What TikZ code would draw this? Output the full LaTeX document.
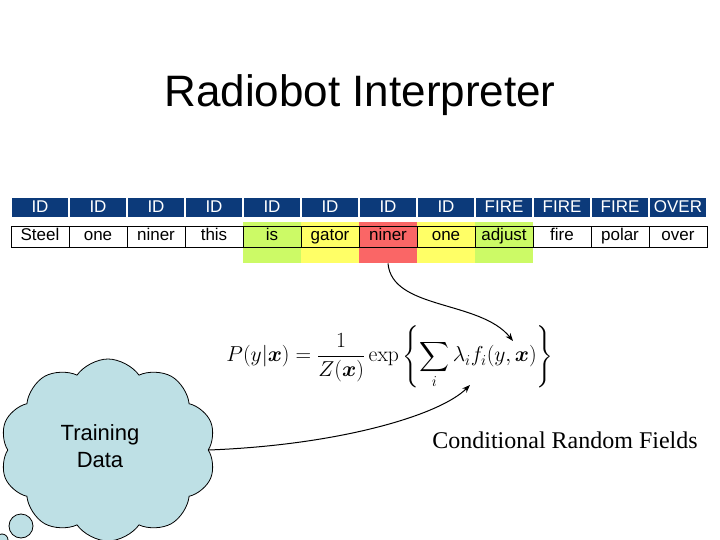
\RequirePackage{fix-cm}
\documentclass[tikz,border=0pt]{standalone}
\usepackage{amsmath,bm}
\usepackage[no-math]{fontspec}
\setmainfont{Liberation Sans}
\newfontfamily\timesfont{Liberation Serif}
\usetikzlibrary{shapes.symbols,arrows.meta}
\definecolor{hdrblue}{RGB}{12,58,122}
\definecolor{hlgreen}{RGB}{204,250,102}
\definecolor{hlyellow}{RGB}{255,255,102}
\definecolor{hlred}{RGB}{250,102,102}
\definecolor{cloudblue}{RGB}{190,224,229}
\tikzset{
  hdrcell/.style={fill=hdrblue,draw=white,line width=1.2pt,minimum width=58pt,minimum height=21pt,inner sep=0pt,text=white,text height=12pt,text depth=3pt,font=\fontsize{17}{17}\selectfont},
  wordcell/.style={draw=black,line width=0.8pt,minimum width=58pt,minimum height=21pt,inner sep=0pt,text height=12pt,text depth=3.5pt,font=\fontsize{17}{17}\selectfont},
  hlcell/.style={minimum width=58pt,minimum height=41pt,inner sep=0pt,anchor=north},
  conn/.style={line width=1pt,-{Stealth[length=8pt,width=6pt]}},
}
\begin{document}
\begin{tikzpicture}[x=1pt,y=-1pt]
\useasboundingbox (0,0) rectangle (720,540);
\node (title) at (360,95) {\fontsize{44}{44}\selectfont Radiobot Interpreter};
% highlight extensions
\node[hlcell,fill=hlgreen]  (hl4)  at (272,222) {};
\node[hlcell,fill=hlyellow] (hl5)  at (330,222) {};
\node[hlcell,fill=hlred]    (hl6)  at (388,222) {};
\node[hlcell,fill=hlyellow] (hl7)  at (446,222) {};
\node[hlcell,fill=hlgreen]  (hl8)  at (504,222) {};
% header row
\foreach \lab [count=\i from 0] in {ID,ID,ID,ID,ID,ID,ID,ID,FIRE,FIRE,FIRE,OVER}
  \node[hdrcell] (h\i) at ({40+58*\i},207.5) {\lab};
% word row
\foreach \lab [count=\i from 0] in {Steel,one,niner,this,is,gator,niner,one,adjust,fire,polar,over}
  \node[wordcell] (w\i) at ({40+58*\i},236.5) {\lab};
% formula
\node (formula) at (390,357) {\fontsize{21.6}{26}\selectfont $\displaystyle P(y|\bm{x}) = \frac{1}{Z(\bm{x})}\exp\left\{\sum_i \lambda_i f_i(y,\bm{x})\right\}$};
\coordinate (fin) at (513,341);
\coordinate (sumin) at (470,385);
% cloud
\node[cloud,cloud puffs=10,cloud puff arc=110,aspect=1.15,draw=black,line width=0.8pt,fill=cloudblue,minimum width=216pt,minimum height=182pt,inner sep=0pt] (cloud) at (108,450) {};
\node[font=\fontsize{22}{27}\selectfont,align=center] (tdata) at (100,446) {Training\\Data};
\node[circle,draw=black,line width=0.8pt,fill=cloudblue,minimum size=24pt,inner sep=0pt] (bub1) at (21,526) {};
\node[circle,draw=black,line width=0.8pt,fill=cloudblue,minimum size=12pt,inner sep=0pt] (bub2) at (2,540) {};
% CRF label
\node (crf) at (565,440) {\timesfont\fontsize{24}{24}\selectfont Conditional Random Fields};
% connectors
\draw[conn] (hl6.south) .. controls (392,310) and (480,300) .. (fin);
\draw[conn] (cloud.east) .. controls (340,445) and (440,415) .. (sumin);
\end{tikzpicture}
\end{document}
